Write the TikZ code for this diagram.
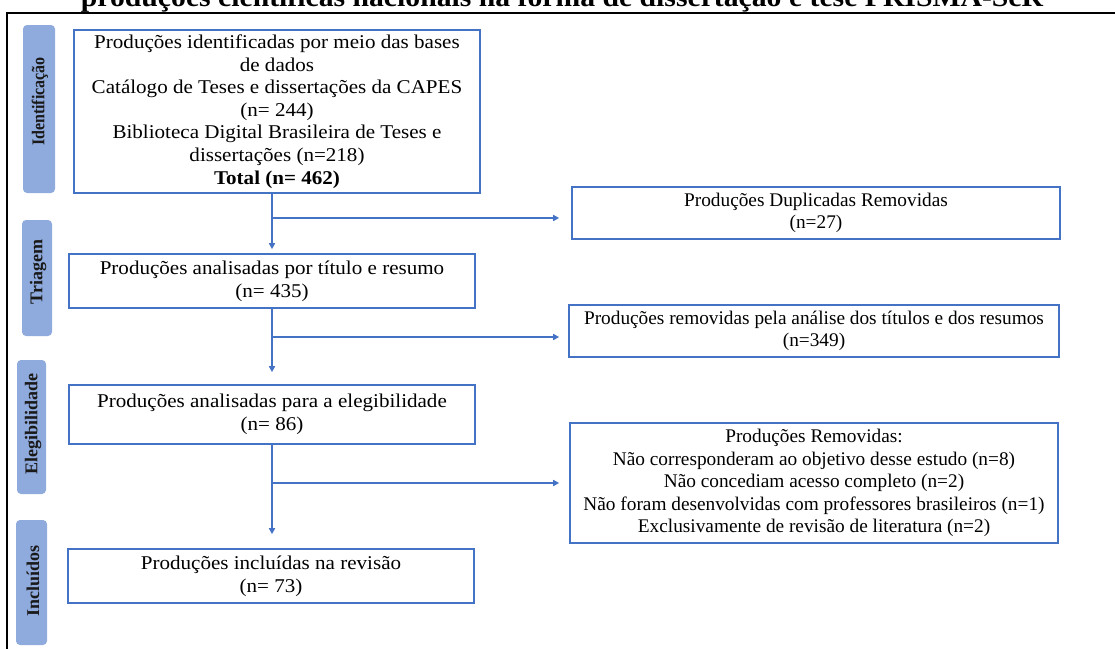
\documentclass[tikz,border=0pt]{standalone}
\usepackage{fontspec}
\setmainfont[FakeStretch=1.08]{Liberation Serif}
\newfontfamily\tabfont{Liberation Serif}
\usetikzlibrary{arrows.meta}
\definecolor{boxblue}{HTML}{4472C4}
\definecolor{tabblue}{HTML}{8FAADC}
\begin{document}
\begin{tikzpicture}[x=1pt,y=-1pt,
 box/.style={draw=boxblue, line width=1.6pt, align=center, inner sep=0pt, font=\fontsize{19.5}{22.6}\selectfont},
 sidebox/.style={box, font=\tabfont\fontsize{19.3}{22.6}\selectfont},
 tab/.style={fill=tabblue, rounded corners=4pt, inner sep=0pt},
 tabtext/.style={rotate=90, inner sep=0pt, font=\tabfont\fontsize{18}{20}\selectfont\bfseries, text=black!90},
 arr/.style={draw=boxblue, line width=1.6pt, -{Triangle[length=6pt,width=6pt]}}]
\useasboundingbox (0,0) rectangle (1115,648);
\clip (0,0) rectangle (1115,648);
% title (cut at top, as in the reference)
\node[font=\fontsize{27.5}{30}\selectfont\bfseries, anchor=base, inner sep=0pt] (title) at (562,6) {produções científicas nacionais na forma de dissertação e tese PRISMA-ScR};
% frame
\draw[line width=2.5pt] (7,650) -- (7,13) -- (1116,13);
% tabs
\node[tab, minimum width=32pt, minimum height=168pt] (t1) at (39,109) {};
\node[tab, minimum width=30pt, minimum height=116pt] (t2) at (37,278) {};
\node[tab, minimum width=29pt, minimum height=134pt] (t3) at (31.5,427) {};
\node[tab, minimum width=31pt, minimum height=125pt] (t4) at (31.5,582.5) {};
\node[tabtext] (l1) at (40,101.5) {\scalebox{0.89}[1]{Identificação}};
\node[tabtext] (l2) at (38,272) {Triagem};
\node[tabtext] (l3) at (33,424) {Elegibilidade};
\node[tabtext] (l4) at (33,581) {Incluídos};
% main boxes
\node[box, minimum width=406pt, minimum height=163pt] (b1) at (277,111.5) {Produções identificadas por meio das bases\\ de dados\\ Catálogo de Teses e dissertações da CAPES\\ (n= 244)\\ Biblioteca Digital Brasileira de Teses e\\ dissertações (n=218)\\ \textbf{Total (n= 462)}};
\node[box, minimum width=406pt, minimum height=54pt] (b2) at (272,281) {Produções analisadas por título e resumo\\ (n= 435)};
\node[box, minimum width=406pt, minimum height=59pt] (b3) at (272,414.5) {Produções analisadas para a elegibilidade\\ (n= 86)};
\node[box, minimum width=406pt, minimum height=54pt] (b4) at (271,576) {Produções incluídas na revisão\\ (n= 73)};
% side boxes
\node[sidebox, minimum width=488pt, minimum height=52pt] (b5) at (816,213) {Produções Duplicadas Removidas\\ (n=27)};
\node[sidebox, minimum width=490pt, minimum height=52pt] (b6) at (814,331) {Produções removidas pela análise dos títulos e dos resumos\\ (n=349)};
\node[sidebox, minimum width=488pt, minimum height=120pt] (b7) at (814,483) {Produções Removidas:\\ Não corresponderam ao objetivo desse estudo (n=8)\\ Não concediam acesso completo (n=2)\\ Não foram desenvolvidas com professores brasileiros (n=1)\\ Exclusivamente de revisão de literatura (n=2)};
% junctions
\coordinate (j1) at (272,218);
\coordinate (j2) at (272,337);
\coordinate (j3) at (272,483);
% connectors
\draw[arr, shorten >=4pt] (b1.south -| j1) -- (b2.north);
\draw[arr, shorten >=12pt] (j1) -- (j1 -| b5.west);
\draw[arr, shorten >=12pt] (b2.south -| j2) -- (b3.north -| j2);
\draw[arr, shorten >=9pt] (j2) -- (j2 -| b6.west);
\draw[arr, shorten >=14pt] (b3.south -| j3) -- (b4.north -| j3);
\draw[arr, shorten >=10pt] (j3) -- (j3 -| b7.west);
\end{tikzpicture}
\end{document}
